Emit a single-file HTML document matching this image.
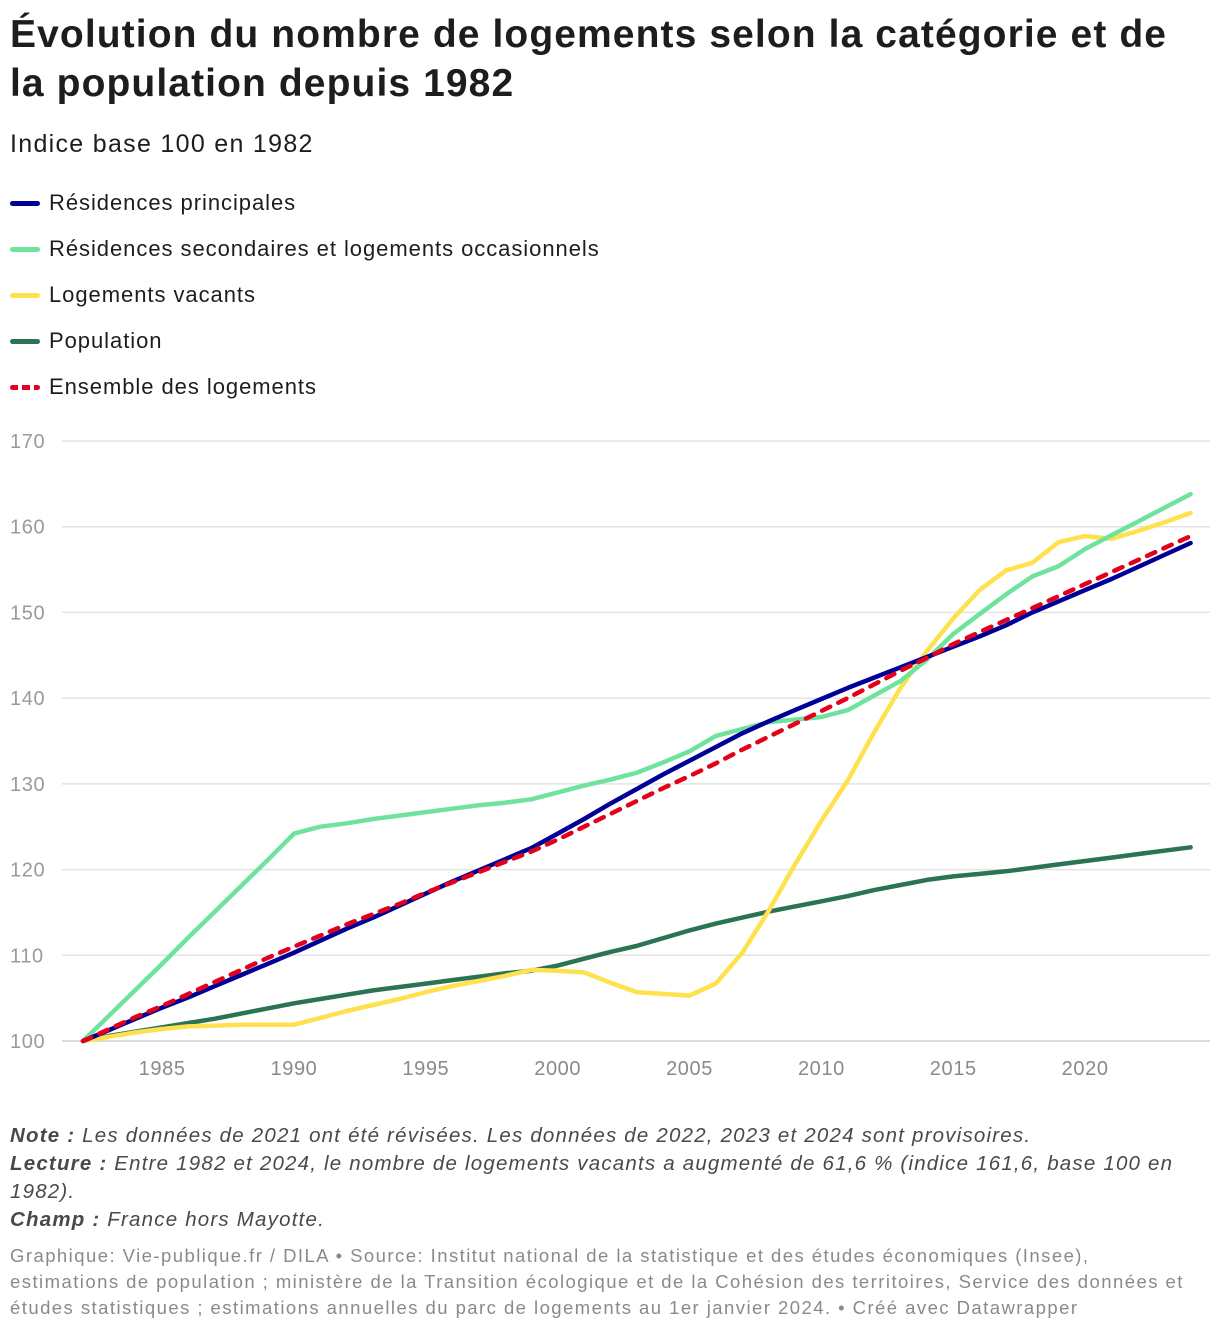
<!DOCTYPE html>
<html><head><meta charset="utf-8">
<style>
body{margin:0;background:#fff;font-family:"Liberation Sans",sans-serif;color:#1d1d1d;}
#wrap{position:relative;width:1220px;height:1332px;overflow:hidden;}
h1{position:absolute;left:10px;top:10px;margin:0;font-size:39px;line-height:49px;font-weight:bold;width:1175px;letter-spacing:1.1px}
.sub{position:absolute;left:10px;top:130px;font-size:25px;letter-spacing:1.3px}
.leg{position:absolute;left:10px;font-size:22px;letter-spacing:0.95px;display:flex;align-items:center}
.sw{width:30px;height:5px;border-radius:3px;margin-right:9px}
.note{position:absolute;left:10px;font-size:20.5px;font-style:italic;color:#494949;line-height:28px;width:1200px;letter-spacing:1.2px;white-space:nowrap}
.foot{position:absolute;left:10px;top:1243px;font-size:18.5px;color:#8a8a8a;line-height:26px;width:1210px;letter-spacing:1.45px;white-space:nowrap}
</style></head><body>
<div id="wrap">
<h1>Évolution du nombre de logements selon la catégorie et de la population depuis 1982</h1>
<div class="sub">Indice base 100 en 1982</div>
<div class="leg" style="top:190px"><div class="sw" style="background:#000097"></div>Résidences principales</div>
<div class="leg" style="top:236px"><div class="sw" style="background:#6fe39e"></div>Résidences secondaires et logements occasionnels</div>
<div class="leg" style="top:282px"><div class="sw" style="background:#ffe14e"></div>Logements vacants</div>
<div class="leg" style="top:328px"><div class="sw" style="background:#2a7353"></div>Population</div>
<div class="leg" style="top:374px"><div class="sw" style="background:repeating-linear-gradient(90deg,#e2001a 0 8px,transparent 8px 12px)"></div>Ensemble des logements</div>
<svg id="chart" width="1220" height="1332" style="position:absolute;left:0;top:0"></svg>
<div class="note" style="top:1122px"><b>Note :</b> Les données de 2021 ont été révisées. Les données de 2022, 2023 et 2024 sont provisoires.</div>
<div class="note" style="top:1150px"><b>Lecture :</b> Entre 1982 et 2024, le nombre de logements vacants a augmenté de 61,6 % (indice 161,6, base 100 en<br>1982).</div>
<div class="note" style="top:1206px"><b>Champ :</b> France hors Mayotte.</div>
<div class="foot">Graphique: Vie-publique.fr / DILA • Source: Institut national de la statistique et des études économiques (Insee),<br>estimations de population ; ministère de la Transition écologique et de la Cohésion des territoires, Service des données et<br>études statistiques ; estimations annuelles du parc de logements au 1er janvier 2024. • Créé avec Datawrapper</div>
</div>
<script>
const years=[1982,1983,1984,1985,1986,1987,1988,1989,1990,1991,1992,1993,1994,1995,1996,1997,1998,1999,2000,2001,2002,2003,2004,2005,2006,2007,2008,2009,2010,2011,2012,2013,2014,2015,2016,2017,2018,2019,2020,2021,2022,2023,2024];
const secondaires=[100,103.0,106.0,109.0,112.1,115.1,118.1,121.1,124.2,125.0,125.4,125.9,126.3,126.7,127.1,127.5,127.8,128.2,129.0,129.8,130.5,131.3,132.5,133.8,135.6,136.4,137.2,137.5,137.8,138.6,140.3,142.0,144.5,147.5,149.8,152.1,154.2,155.4,157.4,159.0,160.6,162.2,163.8];
const vacants=[100,100.5,101.0,101.4,101.7,101.8,101.9,101.9,101.9,102.7,103.5,104.2,104.9,105.7,106.4,107.0,107.6,108.3,108.2,108.0,106.8,105.7,105.5,105.3,106.7,110.3,115.2,120.6,125.7,130.4,136.0,141.2,145.5,149.3,152.6,154.9,155.8,158.2,158.9,158.6,159.5,160.5,161.6];
const population=[100,100.6,101.1,101.6,102.1,102.6,103.2,103.8,104.4,104.9,105.4,105.9,106.3,106.7,107.1,107.5,107.9,108.2,108.8,109.6,110.4,111.1,112.0,112.9,113.7,114.4,115.1,115.7,116.3,116.9,117.6,118.2,118.8,119.2,119.5,119.8,120.2,120.6,121.0,121.4,121.8,122.2,122.6];
const ensemble=[100,101.4,102.8,104.1,105.5,106.9,108.3,109.7,111.0,112.3,113.6,114.8,116.0,117.3,118.5,119.7,120.9,122.1,123.5,125.0,126.5,128.0,129.5,130.9,132.4,134.0,135.5,137.0,138.5,140.0,141.6,143.2,144.7,146.3,147.7,149.1,150.5,151.9,153.3,154.7,156.1,157.5,158.9];
const principales=[100,101.3,102.6,103.9,105.1,106.4,107.7,109.0,110.3,111.7,113.1,114.4,115.8,117.2,118.6,119.9,121.2,122.5,124.2,125.9,127.7,129.4,131.1,132.7,134.3,135.9,137.3,138.6,139.9,141.2,142.4,143.6,144.8,146.0,147.2,148.5,150.0,151.3,152.6,153.9,155.3,156.7,158.1];
const yTicks=[100,110,120,130,140,150,160,170];
const xTicks=[1985,1990,1995,2000,2005,2010,2015,2020];

const NS="http://www.w3.org/2000/svg";
const svg=document.getElementById('chart');
const x=v=>83+(v-1982)*(1085-162)/35;
const y=v=>1041-(v-100)*600/70;
function mk(t,a){const e=document.createElementNS(NS,t);for(const k in a)e.setAttribute(k,a[k]);svg.appendChild(e);return e;}
yTicks.forEach(t=>{
  const l=mk('line',{x1:62,x2:1210,y1:y(t),y2:y(t),stroke:t===100?'#d0d0d0':'#e3e3e3','stroke-width':1.5});
  
  
  const tx=mk('text',{x:10,y:y(t)+7,'font-size':20,fill:'#9a9a9a','letter-spacing':'0.6','font-family':'Liberation Sans, sans-serif'});
  tx.textContent=t;
  
  
});
xTicks.forEach(t=>{
  const tx=mk('text',{x:x(t),y:1075,'font-size':20,fill:'#8a8a8a','letter-spacing':'0.6','text-anchor':'middle','font-family':'Liberation Sans, sans-serif'});
  tx.textContent=t;
  
  
});
function line(vals,color,name,dash){
  const d=vals.map((v,i)=>(i?'L':'M')+x(years[i]).toFixed(1)+','+y(v).toFixed(1)).join('');
  const p=mk('path',{d:d,fill:'none',stroke:color,'stroke-width':4.5,'stroke-linejoin':'round','stroke-linecap':'round'});
  if(dash)p.setAttribute('stroke-dasharray',dash);
  
  
}
line(population,'#2a7353','line-population');
line(vacants,'#ffe14e','line-logements-vacants');
line(secondaires,'#6fe39e','line-residences-secondaires');
line(principales,'#000097','line-residences-principales');
line(ensemble,'#e2001a','line-ensemble-des-logements','9 9');
</script>
</body></html>
